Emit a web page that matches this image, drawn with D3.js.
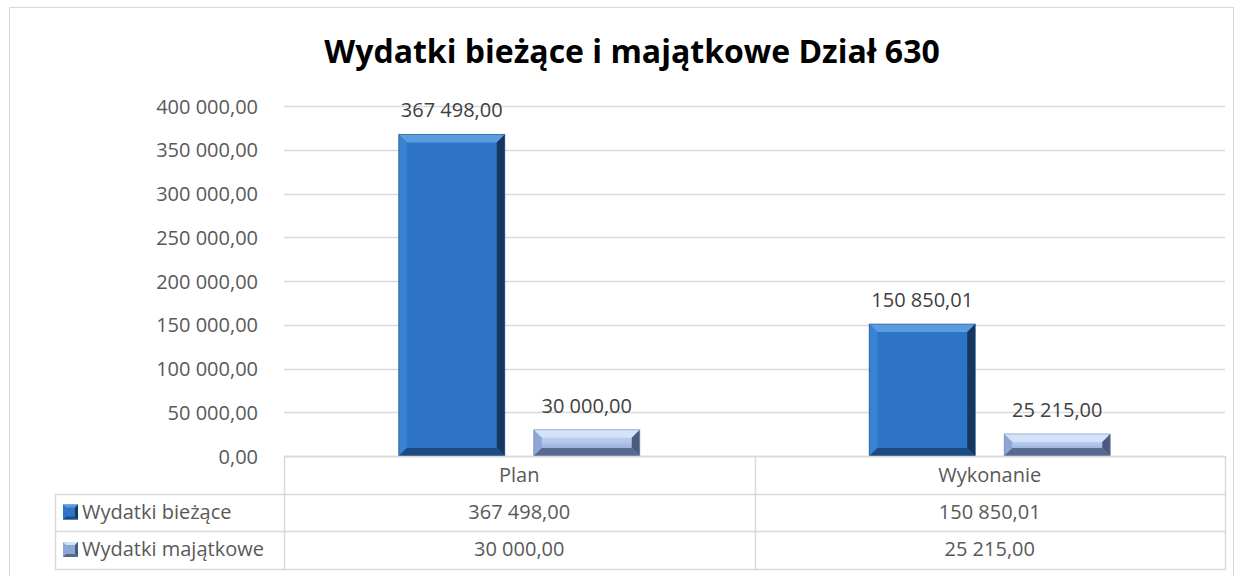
<!DOCTYPE html>
<html>
<head>
<meta charset="utf-8">
<script src="https://cdn.jsdelivr.net/npm/d3@7"></script>
<style>
  body { margin: 0; background: #fff; }
  text { font-family: "Open Sans", sans-serif; }
</style>
</head>
<body>
<div id="chart"></div>
<script>
// Chart data
const categories = ["Plan", "Wykonanie"];
const seriesNames = ["Wydatki bieżące", "Wydatki majątkowe"];
const biezace = [367498.0, 150850.01];
const majatkowe = [30000.0, 25215.0];
const yTicks = [0, 50000, 100000, 150000, 200000, 250000, 300000, 350000, 400000];

const seriesValues = [biezace, majatkowe];

// Polish number format
const plLocale = d3.formatLocale({
  decimal: ",",
  thousands: " ",
  grouping: [3],
  currency: ["", " zł"]
});
const fmt = plLocale.format(",.2f");

// Chart Variables and Constants
const width = 1242;
const height = 576;
const margin = { top: 106, right: 17, bottom: 120, left: 284 };
const plotBottom = 456;
const rowH = 37.5;
const legendLeft = 55;
const GRID = "#D9D9D9";
const TEXT = "#595959";
const FS = "20px";

const svg = d3
  .select("#chart")
  .append("svg")
  .attr("width", width)
  .attr("height", height);

// Outer frame
svg
  .append("rect")
  .attr("x", 9.5)
  .attr("y", 7.5)
  .attr("width", 1224)
  .attr("height", 580)
  .attr("fill", "#fff")
  .attr("stroke", GRID);

// Title
svg
  .append("text")
  .attr("x", 632)
  .attr("y", 63)
  .attr("text-anchor", "middle")
  .style("font-weight", "bold")
  .style("font-size", "32px")
  .style("fill", "#000")
  .text("Wydatki bieżące i majątkowe Dział 630");

// Scales
const x0 = d3
  .scaleBand()
  .domain(categories)
  .range([margin.left, width - margin.right]);

const x1 = d3
  .scaleBand()
  .domain(seriesNames)
  .range([-120.5, 120.5])
  .paddingInner(0.215);

const y = d3
  .scaleLinear()
  .domain([0, 400000])
  .range([plotBottom, margin.top]);

// Gridlines
svg
  .append("g")
  .selectAll("line")
  .data(yTicks)
  .enter()
  .append("line")
  .attr("x1", margin.left)
  .attr("x2", width - margin.right)
  .attr("y1", (d) => Math.round(y(d)) + 0.5)
  .attr("y2", (d) => Math.round(y(d)) + 0.5)
  .attr("stroke", GRID)
  .attr("stroke-width", 1.5);

// Y axis
const yAxis = svg
  .append("g")
  .attr("transform", `translate(${margin.left - 23}, 0)`)
  .call(d3.axisLeft(y).tickValues(yTicks).tickSize(0).tickFormat(fmt));
yAxis.select(".domain").remove();
yAxis
  .selectAll("text")
  .attr("dy", "0.36em")
  .style("font-family", "'Open Sans', sans-serif")
  .style("font-size", FS)
  .style("fill", TEXT);

// Bevel gradients
const defs = svg.append("defs");
const palettes = [
  { face: "#2E74C4", top: "#5B9BE0", left: "#3A82D2", right: "#15375E", bottom: "#1D4C84" },
  { face: "#A9C1EA", top: "#D3E2FB", left: "#8CA6D6", right: "#4B5B7E", bottom: "#56698F" }
];
const faceGrad = defs
  .append("linearGradient")
  .attr("id", "face-1")
  .attr("x1", "0%").attr("x2", "0%")
  .attr("y1", "0%").attr("y2", "100%");
faceGrad.append("stop").attr("offset", "0%").attr("stop-color", "#C9DAF8");
faceGrad.append("stop").attr("offset", "45%").attr("stop-color", "#B4C8EC");
faceGrad.append("stop").attr("offset", "100%").attr("stop-color", "#7F95BF");

// Bars with bevel edges
const bevel = 8;
categories.forEach((cat, ci) => {
  seriesValues.forEach((vals, si) => {
    const v = vals[ci];
    const bx = x0(cat) + x0.bandwidth() / 2 + x1(seriesNames[si]);
    const bw = x1.bandwidth();
    const by = y(v);
    const bh = plotBottom - by;
    const b = Math.min(bevel, bh / 2.5);
    const p = palettes[si];
    const g = svg.append("g");

    g.append("rect")
      .attr("x", bx)
      .attr("y", by)
      .attr("width", bw)
      .attr("height", bh)
      .attr("fill", si === 1 ? "url(#face-1)" : p.face);

    const poly = (pts, fill) =>
      g.append("polygon")
        .attr("points", pts.map((q) => q.join(",")).join(" "))
        .attr("fill", fill);

    const x2 = bx + bw;
    const y2 = by + bh;
    poly([[bx, by], [x2, by], [x2 - b, by + b], [bx + b, by + b]], p.top);
    poly([[bx, by], [bx + b, by + b], [bx + b, y2 - b], [bx, y2]], p.left);
    poly([[x2, by], [x2, y2], [x2 - b, y2 - b], [x2 - b, by + b]], p.right);
    poly([[bx, y2], [bx + b, y2 - b], [x2 - b, y2 - b], [x2, y2]], p.bottom);

    g.append("rect")
      .attr("x", bx)
      .attr("y", by)
      .attr("width", bw)
      .attr("height", bh)
      .attr("fill", "none")
      .attr("stroke", si === 0 ? "#1F4E86" : "#6F83A8")
      .attr("stroke-opacity", 0.6)
      .attr("stroke-width", 1);

    // Data label
    svg
      .append("text")
      .attr("x", bx + bw / 2)
      .attr("y", by - 17)
      .attr("text-anchor", "middle")
      .style("font-size", FS)
      .style("fill", "#404040")
      .text(fmt(v));
  });
});

// Data table
const table = svg.append("g");
const right = width - margin.right;
const hLines = [
  { y: plotBottom, x1: margin.left },
  { y: plotBottom + rowH, x1: legendLeft },
  { y: plotBottom + rowH * 2, x1: legendLeft },
  { y: plotBottom + rowH * 3, x1: legendLeft }
];
table
  .selectAll(".hl")
  .data(hLines)
  .enter()
  .append("line")
  .attr("x1", (d) => d.x1)
  .attr("x2", right)
  .attr("y1", (d) => Math.round(d.y) + 0.5)
  .attr("y2", (d) => Math.round(d.y) + 0.5)
  .attr("stroke", GRID)
  .attr("stroke-width", 1.5);

const vLines = [
  { x: legendLeft, y1: plotBottom + rowH },
  { x: margin.left, y1: plotBottom },
  { x: x0(categories[1]), y1: plotBottom },
  { x: right, y1: plotBottom }
];
table
  .selectAll(".vl")
  .data(vLines)
  .enter()
  .append("line")
  .attr("x1", (d) => Math.round(d.x) + 0.5)
  .attr("x2", (d) => Math.round(d.x) + 0.5)
  .attr("y1", (d) => Math.round(d.y1))
  .attr("y2", Math.round(plotBottom + rowH * 3) + 1)
  .attr("stroke", GRID)
  .attr("stroke-width", 1.5);

// Header row (categories)
table
  .selectAll(".cat")
  .data(categories)
  .enter()
  .append("text")
  .attr("x", (d) => x0(d) + x0.bandwidth() / 2)
  .attr("y", plotBottom + 26)
  .attr("text-anchor", "middle")
  .style("font-size", FS)
  .style("fill", TEXT)
  .text((d) => d);

// Series rows
seriesNames.forEach((name, si) => {
  const rowY = plotBottom + rowH * (si + 1);
  const p = palettes[si];
  const kx = 63;
  const ky = rowY + 11;
  const ks = 15;
  const kg = table.append("g");
  kg.append("rect")
    .attr("x", kx).attr("y", ky).attr("width", ks).attr("height", ks)
    .attr("fill", si === 0 ? p.face : "#8CA6D6");
  kg.append("polygon")
    .attr("points", `${kx},${ky} ${kx + ks},${ky} ${kx + ks - 3},${ky + 3} ${kx + 3},${ky + 3}`)
    .attr("fill", p.top);
  kg.append("polygon")
    .attr("points", `${kx + ks},${ky} ${kx + ks},${ky + ks} ${kx + ks - 3},${ky + ks - 3} ${kx + ks - 3},${ky + 3}`)
    .attr("fill", p.right);
  kg.append("polygon")
    .attr("points", `${kx},${ky + ks} ${kx + 3},${ky + ks - 3} ${kx + ks - 3},${ky + ks - 3} ${kx + ks},${ky + ks}`)
    .attr("fill", p.bottom);

  table
    .append("text")
    .attr("x", 82)
    .attr("y", rowY + 25)
    .style("font-size", FS)
    .style("fill", TEXT)
    .text(name);

  categories.forEach((cat, ci) => {
    table
      .append("text")
      .attr("x", x0(cat) + x0.bandwidth() / 2)
      .attr("y", rowY + 25)
      .attr("text-anchor", "middle")
      .style("font-size", FS)
      .style("fill", TEXT)
      .text(fmt(seriesValues[si][ci]));
  });
});
</script>
</body>
</html>
